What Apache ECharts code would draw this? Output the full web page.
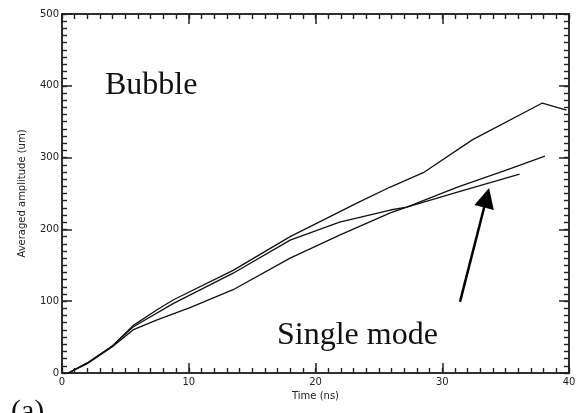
<!DOCTYPE html>
<html>
<head>
<meta charset="utf-8">
<script src="https://cdn.jsdelivr.net/npm/echarts@6/dist/echarts.min.js"></script>
<style>
  html, body { margin: 0; padding: 0; background: #fff; }
  #chart { width: 579px; height: 413px; }
</style>
</head>
<body>
<div id="chart"></div>
<script>
// Averaged amplitude growth vs. time for three runs
const timeTop = [0.5, 2, 4, 5.6, 7.5, 8.8, 13.5, 18, 23.3, 25.9, 28.5, 32.4, 37.9, 39.8];
const ampTop  = [0, 14, 38, 66, 88, 102, 143, 190, 237, 259, 279, 325, 376, 366];

const timeMid = [0.5, 2, 4, 5.6, 8.8, 13.5, 18, 21.9, 25.9, 27.2, 31.2, 36.1];
const ampMid  = [0, 14, 38, 64, 97, 139, 185, 210, 227, 231, 252, 277];

const timeLow = [0.5, 2, 4, 5.6, 7.5, 10.1, 13.5, 18, 21.9, 25.9, 27.2, 31.2, 35.1, 38.1];
const ampLow  = [0, 13, 37, 60, 74, 91, 116, 160, 192, 223, 231, 259, 283, 302];

// Arrow pointing at the single-mode curve: [time, amplitude] of tail and head
const arrowTail = [31.4, 99];
const arrowHead = [33.5, 244];

const xRange = { min: 0, max: 40 };
const yRange = { min: 0, max: 500 };
const xMajorStep = 10, xMinorStep = 1;
const yMajorStep = 100, yMinorStep = 10;

const pairs = (xs, ys) => xs.map((x, i) => [x, ys[i]]);

const labelFont = { fontFamily: 'DejaVu Sans', fontSize: 10, color: '#222' };
const axisLine = { show: true, onZero: false, lineStyle: { color: '#222', width: 1.5 } };
const majorTick = { show: true, inside: true, length: 10, lineStyle: { color: '#222', width: 1.5 } };
const minorTick = { show: true, inside: true, length: 5, lineStyle: { color: '#222', width: 1.4 } };

// One axis per side and tick size; only the bottom and left majors carry labels
function xAxisFor(position, step, tick, withLabels) {
  return {
    type: 'value', position, ...xRange, interval: step,
    axisLine, axisTick: tick,
    axisLabel: withLabels ? { ...labelFont, margin: 4 } : { show: false },
    splitLine: { show: false },
    ...(withLabels ? {
      name: 'Time (ns)', nameLocation: 'middle', nameGap: 17,
      nameTextStyle: { ...labelFont }
    } : {})
  };
}
function yAxisFor(position, step, tick, withLabels) {
  return {
    type: 'value', position, ...yRange, interval: step,
    axisLine, axisTick: tick,
    axisLabel: withLabels ? { ...labelFont, margin: 3 } : { show: false },
    splitLine: { show: false },
    ...(withLabels ? {
      name: 'Averaged amplitude (um)', nameLocation: 'middle', nameGap: 35,
      nameTextStyle: { ...labelFont }
    } : {})
  };
}

const chart = echarts.init(document.getElementById('chart'), null, { renderer: 'canvas' });

const curveStyle = { color: '#111', width: 1.3 };

chart.setOption({
  animation: false,
  backgroundColor: '#fff',
  grid: { left: 62, right: 10, top: 14, bottom: 40, containLabel: false },
  xAxis: [
    xAxisFor('bottom', xMajorStep, majorTick, true),
    xAxisFor('bottom', xMinorStep, minorTick, false),
    xAxisFor('top', xMajorStep, majorTick, false),
    xAxisFor('top', xMinorStep, minorTick, false)
  ],
  yAxis: [
    yAxisFor('left', yMajorStep, majorTick, true),
    yAxisFor('left', yMinorStep, minorTick, false),
    yAxisFor('right', yMajorStep, majorTick, false),
    yAxisFor('right', yMinorStep, minorTick, false)
  ],
  series: [
    { type: 'line', data: pairs(timeTop, ampTop), showSymbol: false, lineStyle: curveStyle },
    { type: 'line', data: pairs(timeMid, ampMid), showSymbol: false, lineStyle: curveStyle },
    {
      type: 'line', data: pairs(timeLow, ampLow), showSymbol: false, lineStyle: curveStyle,
      markLine: {
        silent: true,
        symbol: ['none', 'triangle'],
        symbolSize: 20,
        label: { show: false },
        lineStyle: { color: '#000', width: 2.5, type: 'solid' },
        data: [[{ coord: arrowTail }, { coord: arrowHead }]]
      }
    }
  ],
  graphic: [
    {
      type: 'text', left: 105, top: 70,
      style: { text: 'Bubble', font: '32px "Liberation Serif"', fill: '#111' }
    },
    {
      type: 'text', left: 277, top: 320,
      style: { text: 'Single mode', font: '32px "Liberation Serif"', fill: '#111' }
    },
    {
      type: 'text', left: 11, top: 397,
      style: { text: '(a)', font: '30px "Liberation Serif"', fill: '#111' }
    }
  ]
});
</script>
</body>
</html>
